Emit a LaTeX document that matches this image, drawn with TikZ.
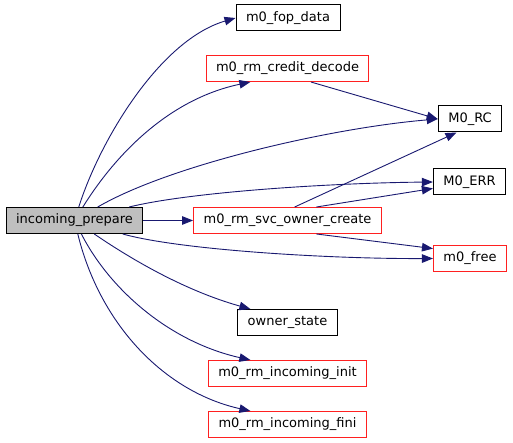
\documentclass[tikz,border=0pt]{standalone}
\usepackage{fontspec}
\setmainfont{DejaVu Sans}
\usetikzlibrary{arrows.meta}
\definecolor{edgeblue}{HTML}{191970}
\definecolor{rootgray}{HTML}{BFBFBF}
\definecolor{extred}{HTML}{FF2020}
\tikzset{
 fn/.style={draw=black, line width=1pt, fill=white, inner xsep=10pt, minimum height=26pt, font=\fontsize{13}{15}\selectfont},
 fnext/.style={fn, draw=extred},
 fnroot/.style={fn, fill=rootgray},
 calls/.style={draw=edgeblue, line width=0.9pt, -{Triangle[length=11pt,width=8.5pt]}}
}

\begin{document}
\begin{tikzpicture}[x=1pt,y=-1pt]
\useasboundingbox (0,0) rectangle (513,443);
\node[fnroot] (prepare) at (74.5,220.5) {incoming\_prepare};
\node[fn]     (fopdata) at (288,18) {m0\_fop\_data};
\node[fnext]  (credit)  at (287.5,68.5) {m0\_rm\_credit\_decode};
\node[fn]     (rc)      at (470,119) {M0\_RC};
\node[fn]     (err)     at (469.5,182) {M0\_ERR};
\node[fnext]  (svc)     at (287.5,220.5) {m0\_rm\_svc\_owner\_create};
\node[fnext]  (free)    at (470,258.5) {m0\_free};
\node[fn]     (ostate)  at (287.5,322.5) {owner\_state};
\node[fnext]  (init)    at (287.5,373.5) {m0\_rm\_incoming\_init};
\node[fnext]  (fini)    at (287.5,424.5) {m0\_rm\_incoming\_fini};

% calls from incoming_prepare
\draw[calls] (prepare) .. controls (100,140) and (160,40) .. (fopdata.west);
\draw[calls] (prepare) .. controls (112,160) and (165,100) .. (credit.200);
\draw[calls] (prepare) .. controls (170,165) and (330,128) .. (rc.west);
\draw[calls] (prepare) .. controls (190,192) and (330,183) .. (err.west);
\draw[calls] (prepare) -- (svc);
\draw[calls] (prepare) .. controls (180,250) and (330,259) .. (free.west);
\draw[calls] (prepare) .. controls (150,272) and (200,295) .. (ostate.160);
\draw[calls] (prepare) .. controls (110,290) and (170,342) .. (init.160);
\draw[calls] (prepare) .. controls (100,325) and (165,392) .. (fini.160);
% calls from the others
\draw[calls] (credit.-30) -- (rc.west);
\draw[calls] (svc.62) -- (rc.-135);
\draw[calls] (svc.25) -- (err.-170);
\draw[calls] (svc.-25) -- (free.165);
\end{tikzpicture}
\end{document}
